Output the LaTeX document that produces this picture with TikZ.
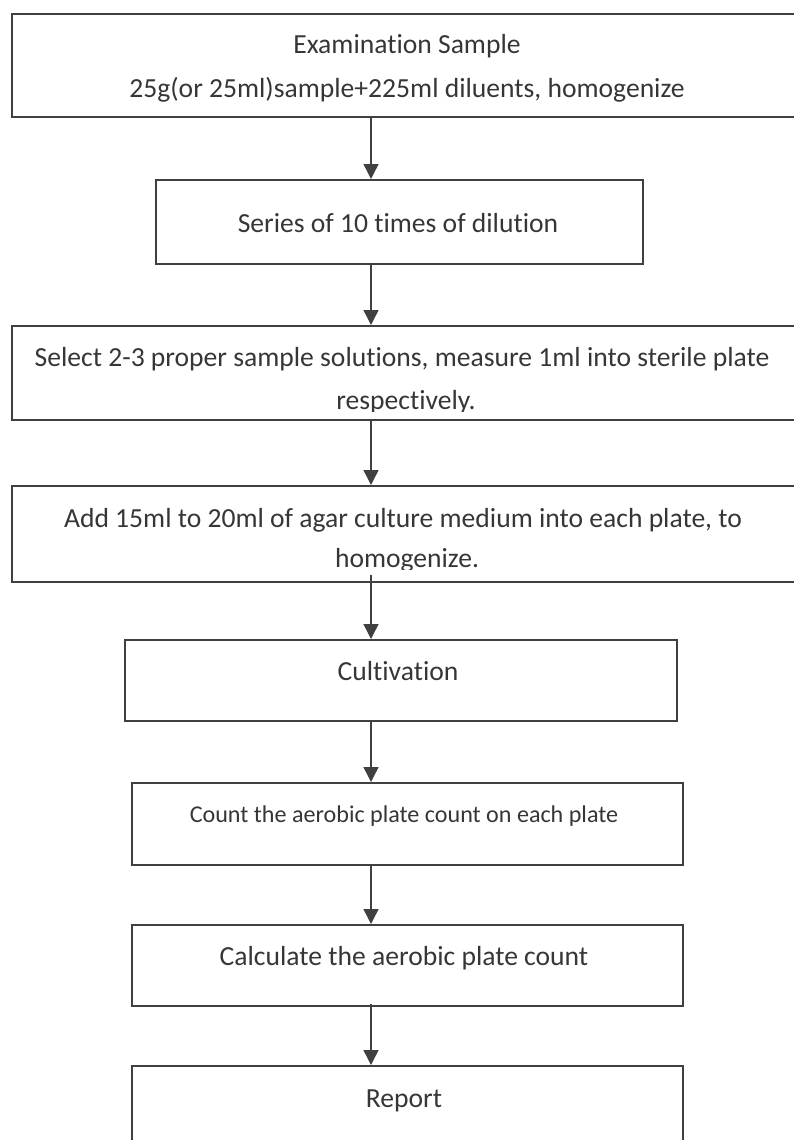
\documentclass[tikz,border=0pt]{standalone}
\usepackage{fontspec}
\setmainfont{Carlito}[Ligatures=NoCommon]
\usetikzlibrary{arrows.meta}
\definecolor{ln}{HTML}{404040}
\definecolor{tx}{HTML}{363636}
\begin{document}
\begin{tikzpicture}[x=1pt,y=-1pt,
  box/.style={draw=ln, line width=1.6pt, inner sep=0pt, anchor=north west},
  arr/.style={draw=ln, line width=1.4pt, -{Triangle[length=15pt,width=15pt]}},
  txt/.style={text=tx, font=\fontsize{27.6}{33}\selectfont, anchor=base, inner sep=0pt},
  small/.style={text=tx, font=\fontsize{24.1}{29}\selectfont, anchor=base, inner sep=0pt},
  ]
\useasboundingbox (0,0) rectangle (793,1140);
\coordinate (ax) at (371,0);
% boxes
\node[box, minimum width=789pt, minimum height=103pt] (b1) at (11,13) {};
\node[box, minimum width=487pt, minimum height=84pt] (b2) at (155,179) {};
\node[box, minimum width=789pt, minimum height=94pt] (b3) at (11,325) {};
\node[box, minimum width=789pt, minimum height=96pt] (b4) at (11,485) {};
\node[box, minimum width=552pt, minimum height=81pt] (b5) at (124,639) {};
\node[box, minimum width=551pt, minimum height=82pt] (b6) at (131,782) {};
\node[box, minimum width=551pt, minimum height=81pt] (b7) at (131,924) {};
\node[box, minimum width=551pt, minimum height=90pt] (b8) at (131,1065) {};
% texts
\node[txt] (t1a) at (407,54) {Examination Sample};
\node[txt] (t1b) at (407,97) {25g(or 25ml)sample+225ml diluents, homogenize};
\node[txt] (t2) at (398,232) {Series of 10 times of dilution};
\node[txt] (t3a) at (402,366) {Select 2-3 proper sample solutions, measure 1ml into sterile plate};
\begin{scope}
\clip (0,0) rectangle (793,411);
\node[txt] (t3b) at (406,409) {respectively.};
\end{scope}
\node[txt] (t4a) at (403,527) {Add 15ml to 20ml of agar culture medium into each plate, to};
\begin{scope}
\clip (0,0) rectangle (793,569);
\node[txt] (t4b) at (407,567) {homogenize.};
\end{scope}
\node[txt] (t5) at (398,680) {Cultivation};
\node[small] (t6) at (404,822) {Count the aerobic plate count on each plate};
\node[txt] (t7) at (404,965) {Calculate the aerobic plate count};
\node[txt] (t8) at (404,1107) {Report};
% connectors
\draw[arr] (b1.south -| ax) -- (b2.north -| ax);
\draw[arr] (b2.south -| ax) -- (b3.north -| ax);
\draw[arr] (b3.south -| ax) -- (b4.north -| ax);
\draw[arr] ([yshift=8pt]b4.south -| ax) -- (b5.north -| ax);
\draw[arr] (b5.south -| ax) -- (b6.north -| ax);
\draw[arr] (b6.south -| ax) -- (b7.north -| ax);
\draw[arr] ([yshift=3pt]b7.south -| ax) -- (b8.north -| ax);
\end{tikzpicture}
\end{document}
